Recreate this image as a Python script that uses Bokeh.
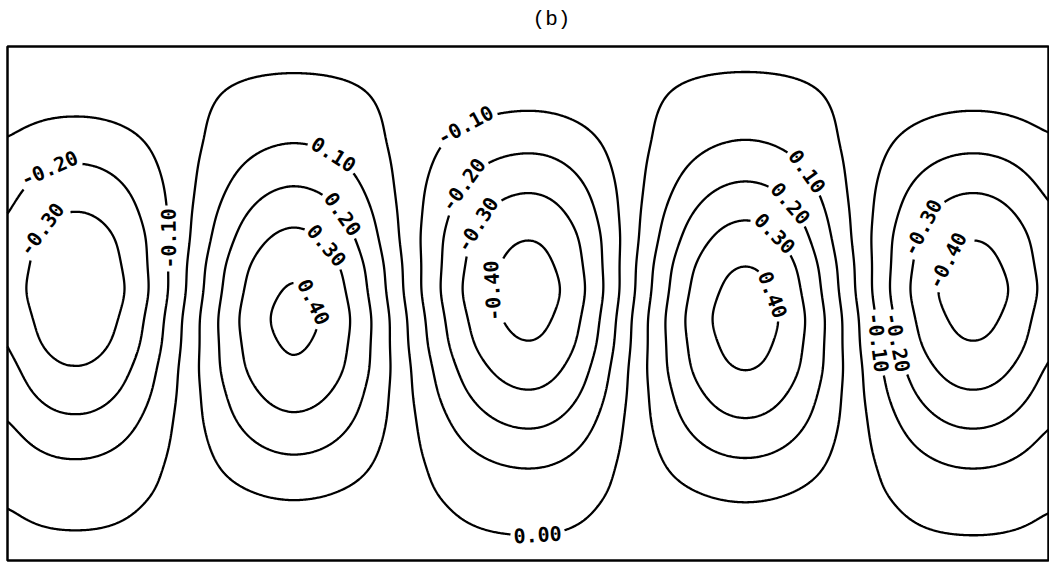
import numpy as np
import contourpy
from bokeh.plotting import figure
from bokeh.models import Range1d, ColumnDataSource
from bokeh.embed import file_html
from bokeh.resources import INLINE
from bokeh.core.properties import value

# ---------------------------------------------------------------------------
# Stream-function box (grid units, 1 unit = 100 px on screen)
box_width = 10.41
box_height = 5.14

# Horizontal structure: cell centres, zero lines between cells (the first one
# lies just outside the box), and the strength of each cell
cell_centers = [0.66, 2.85, 5.21, 7.38, 9.66]
zero_lines = [-0.40, 1.76, 3.98, 6.25, 8.50]
cell_amplitude = [0.86, 0.97, 1.00, 1.02, 1.00]

# Vertical profile through the centre of a positive cell (height, value)
pos_height = [0.00, 0.62, 1.04, 1.44, 1.92, 2.42, 2.92, 3.38, 3.77, 4.18, 4.50, 4.87, 5.14]
pos_value = [0.03, 0.10, 0.20, 0.30, 0.40, 0.445, 0.40, 0.30, 0.20, 0.10, 0.045, 0.00, -0.025]

# Vertical profile (magnitude) through the centre of a negative cell
neg_height = [0.00, 0.25, 0.40, 0.60, 0.93, 1.32, 1.70, 2.17, 2.70, 3.23, 3.68, 4.07,
              4.48, 4.70, 5.14]
neg_value = [-0.025, 0.00, 0.014, 0.035, 0.10, 0.20, 0.30, 0.40, 0.455, 0.40, 0.30, 0.20,
             0.10, 0.065, 0.02]

levels = [-0.40, -0.30, -0.20, -0.10, 0.00, 0.10, 0.20, 0.30, 0.40]

# Inline contour labels: text, approximate place, approximate reading angle (deg)
label_text = ["-0.20", "-0.30", "-0.10",
              "0.10", "0.20", "0.30", "0.40",
              "-0.10", "-0.20", "-0.30", "-0.40",
              "0.10", "0.20", "0.30", "0.40",
              "-0.10", "-0.20", "-0.30", "-0.40",
              "0.00"]
label_x = [0.43, 0.33, 1.60,
           3.26, 3.33, 3.17, 3.03,
           4.63, 4.66, 4.80, 4.93,
           7.90, 7.71, 7.58, 7.58,
           8.73, 8.94, 9.25, 9.50,
           5.30]
label_y = [3.90, 3.32, 3.22,
           4.05, 3.45, 3.14, 2.57,
           4.27, 3.68, 3.30, 2.70,
           3.82, 3.47, 3.17, 2.63,
           2.18, 2.19, 3.28, 2.95,
           0.25]
label_angle = [55, 60, 90,
               -37, -55, -50, -90,
               31, 47, 53, 90,
               -50, -50, -45, -65,
               -77, -73, 60, 60,
               0]

LABEL_FONT_PX = 20


def smooth(v, sigma):
    """Gaussian smoothing of a 1-D array (sigma in samples), edge padded."""
    half = int(3 * sigma)
    k = np.arange(-half, half + 1)
    w = np.exp(-0.5 * (k / sigma) ** 2)
    w /= w.sum()
    return np.convolve(np.pad(v, half, mode="edge"), w, mode="valid")


# ---------------------------------------------------------------------------
# Build the field on a grid
nx, ny = 1042, 515
xg = np.linspace(0.0, box_width, nx)
yg = np.linspace(0.0, box_height, ny)

# phase along x: +pi/2 between consecutive zero lines / centres
knots_x = np.array(sorted(cell_centers + zero_lines))
knots_p = (np.arange(len(knots_x)) - 1) * np.pi / 2
phase = np.interp(xg, knots_x, knots_p)
right_slope = (knots_p[-1] - knots_p[-2]) / (knots_x[-1] - knots_x[-2])
phase = np.where(xg > knots_x[-1], knots_p[-1] + (xg - knots_x[-1]) * right_slope, phase)
phase = smooth(phase, 12)
shape_x = -np.cos(phase) * np.interp(xg, cell_centers, cell_amplitude)

P = smooth(np.interp(yg, pos_height, pos_value), 10)
N = smooth(np.interp(yg, neg_height, neg_value), 10)
A = 0.5 * (P + N)
B = 0.5 * (P - N)

Z = A[:, None] * shape_x[None, :] + B[:, None]

gen = contourpy.contour_generator(x=xg, y=yg, z=Z, line_type="Separate")
lines = {round(lv, 2): [np.asarray(s) for s in gen.lines(lv)] for lv in levels}

# ---------------------------------------------------------------------------
# Put labels on the contour lines and open a gap under each one
lab_x, lab_y, lab_a = [], [], []
for text, lx, ly, adeg in zip(label_text, label_x, label_y, label_angle):
    segs = lines[round(float(text), 2)]
    best = None
    for si, seg in enumerate(segs):
        d2 = (seg[:, 0] - lx) ** 2 + (seg[:, 1] - ly) ** 2
        i = int(np.argmin(d2))
        if best is None or d2[i] < best[0]:
            best = (d2[i], si, i)
    _, si, i = best
    seg = segs[si]
    px, py = seg[i]
    lo, hi = max(i - 5, 0), min(i + 5, len(seg) - 1)
    dx, dy = seg[hi] - seg[lo]
    ang = np.arctan2(dy, dx)
    if np.cos(ang - np.radians(adeg)) < 0:
        ang += np.pi
    lab_x.append(px)
    lab_y.append(py)
    lab_a.append(ang)

    gap = (len(text) * 0.6 * LABEL_FONT_PX / 2 + 3) / 100.0
    if len(seg) > 3 and np.allclose(seg[0], seg[-1]):
        ring = np.roll(seg[:-1], -i, axis=0)
        seg = np.vstack([ring, ring[:1]])
    keep = np.hypot(seg[:, 0] - px, seg[:, 1] - py) > gap
    runs, cur = [], []
    for k, ok in enumerate(keep):
        if ok:
            cur.append(k)
        else:
            if len(cur) > 1:
                runs.append(seg[cur])
            cur = []
    if len(cur) > 1:
        runs.append(seg[cur])
    segs[si:si + 1] = runs

xs, ys = [], []
for lv in levels:
    for seg in lines[round(lv, 2)]:
        xs.append(seg[:, 0].tolist())
        ys.append(seg[:, 1].tolist())

# ---------------------------------------------------------------------------
p = figure(width=1049, height=565,
           x_range=Range1d(-0.07, 10.42), y_range=Range1d(-0.05, 5.60),
           x_axis_type=None, y_axis_type=None,
           output_backend="svg", toolbar_location=None, min_border=0)
p.grid.visible = False
p.outline_line_color = None
p.background_fill_color = "white"
p.border_fill_color = "white"

p.multi_line(xs=xs, ys=ys, line_color="black", line_width=2.3)

p.quad(left=[0], right=[box_width], bottom=[0], top=[box_height],
       fill_color=None, line_color="black", line_width=2.5)

src = ColumnDataSource(dict(x=lab_x, y=lab_y, a=lab_a, t=label_text))
p.text(x="x", y="y", text="t", angle="a", source=src,
       text_font=value("DejaVu Sans Mono"), text_font_style="bold",
       text_font_size=f"{LABEL_FONT_PX}px", text_align="center",
       text_baseline="middle", text_color="black")

p.text(x=[5.44], y=[5.41], text=["(b)"], text_font=value("Liberation Mono"),
       text_font_size="21px", text_align="center", text_baseline="middle",
       text_color="black")

open("out.html", "w").write(file_html(p, INLINE))
